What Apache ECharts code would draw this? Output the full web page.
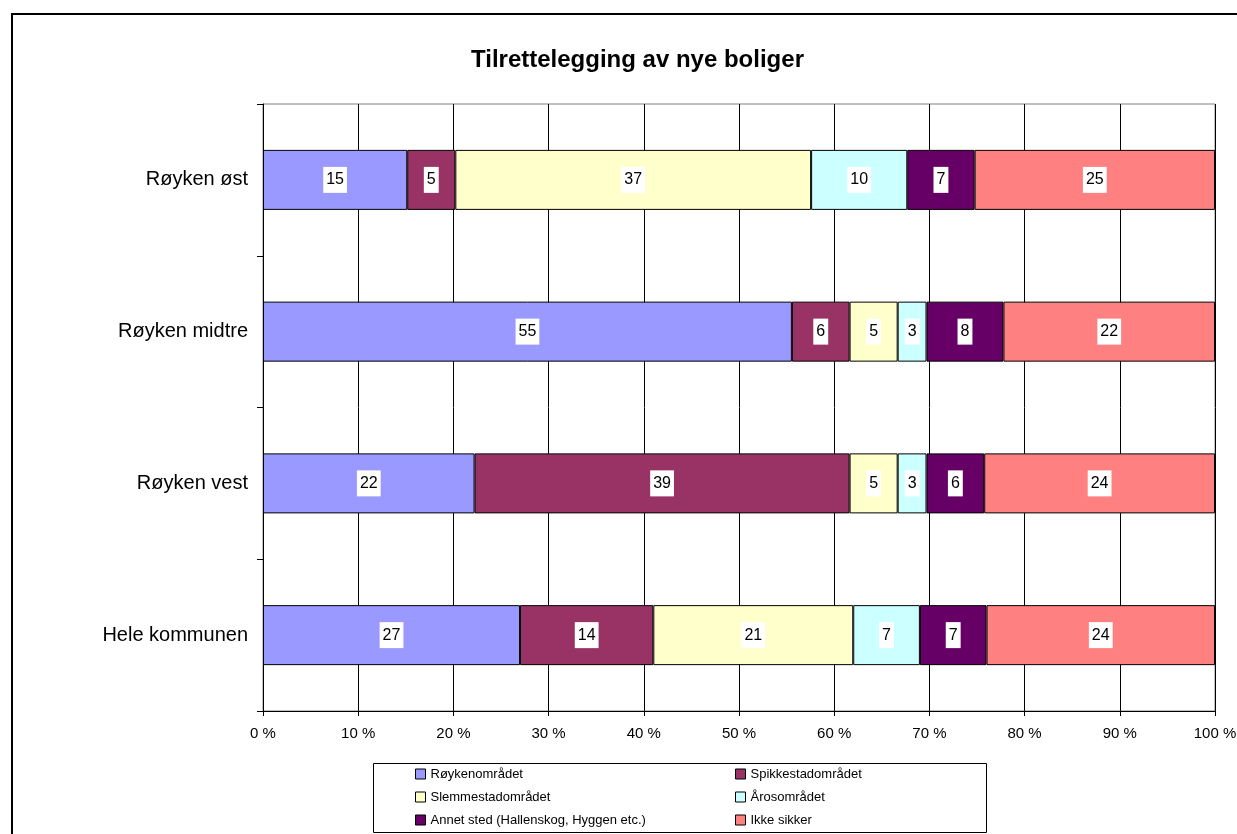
<!DOCTYPE html>
<html>
<head>
<meta charset="utf-8">
<title>Tilrettelegging av nye boliger</title>
<script src="https://cdn.jsdelivr.net/npm/echarts@6/dist/echarts.min.js"></script>
<style>
  html, body { margin: 0; padding: 0; background: #fff; }
  #main { width: 1237px; height: 834px; }
</style>
</head>
<body>
<div id="main"></div>
<script>
// antall svar per område (vises som etiketter), stolpene er normalisert til 100 %
var categories = ['Hele kommunen', 'Røyken vest', 'Røyken midtre', 'Røyken øst'];
var seriesNames = ['Røykenområdet', 'Spikkestadområdet', 'Slemmestadområdet', 'Årosområdet', 'Annet sted (Hallenskog, Hyggen etc.)', 'Ikke sikker'];
var roykenomradet   = [27, 22, 55, 15];
var spikkestad      = [14, 39, 6, 5];
var slemmestad      = [21, 5, 5, 37];
var arosomradet     = [7, 3, 3, 10];
var annetSted       = [7, 6, 8, 7];
var ikkeSikker      = [24, 24, 22, 25];
var xTicks = [0, 10, 20, 30, 40, 50, 60, 70, 80, 90, 100];

var values = [roykenomradet, spikkestad, slemmestad, arosomradet, annetSted, ikkeSikker];
var colors = ['#9999FF', '#993366', '#FFFFCC', '#CCFFFF', '#660066', '#FF8080'];
var font = "'Liberation Sans', Arial, sans-serif";

var totals = categories.map(function (c, i) {
  var s = 0;
  values.forEach(function (v) { s += v[i]; });
  return s;
});

var series = values.map(function (vals, s) {
  return {
    name: seriesNames[s],
    type: 'bar',
    stack: 'total',
    barWidth: 60,
    data: vals.map(function (v, i) { return v / totals[i] * 100; }),
    itemStyle: { color: colors[s], borderColor: '#000', borderWidth: 1 },
    label: {
      show: true,
      position: 'inside',
      formatter: function (p) { return vals[p.dataIndex]; },
      color: '#000',
      fontFamily: font,
      fontSize: 16,
      lineHeight: 18,
      backgroundColor: '#fff',
      padding: [4, 3]
    }
  };
});

var legendStyle = {
  orient: 'vertical',
  top: 767,
  height: 66,
  padding: 0,
  itemWidth: 10,
  itemHeight: 10,
  itemGap: 9,
  icon: 'rect',
  selectedMode: false,
  itemStyle: { borderColor: '#000', borderWidth: 1 },
  textStyle: { color: '#000', fontFamily: font, fontSize: 13, lineHeight: 14 }
};

var chart = echarts.init(document.getElementById('main'));
chart.setOption({
  animation: false,
  backgroundColor: '#fff',
  title: {
    text: 'Tilrettelegging av nye boliger',
    left: 466,
    top: 43,
    textStyle: { color: '#000', fontFamily: font, fontSize: 24, fontWeight: 'bold' }
  },
  graphic: [
    { type: 'rect', shape: { x: 12, y: 14, width: 1300, height: 900 },
      style: { fill: 'none', stroke: '#000', lineWidth: 2 }, silent: true },
    { type: 'rect', shape: { x: 373.5, y: 763.5, width: 613, height: 69 },
      style: { fill: 'none', stroke: '#000', lineWidth: 1 }, silent: true }
  ],
  legend: [
    Object.assign({}, legendStyle, { left: 415, data: [seriesNames[0], seriesNames[2], seriesNames[4]] }),
    Object.assign({}, legendStyle, { left: 735, data: [seriesNames[1], seriesNames[3], seriesNames[5]] })
  ],
  grid: {
    left: 263, right: 22, top: 104, bottom: 123,
    outerBoundsMode: 'none',
    containLabel: false,
    show: true, borderColor: '#808080', borderWidth: 1, backgroundColor: 'transparent'
  },
  xAxis: {
    type: 'value',
    min: xTicks[0],
    max: xTicks[xTicks.length - 1],
    interval: 10,
    axisLine: { show: true, lineStyle: { color: '#000', width: 1 } },
    axisTick: { show: true, length: 5, lineStyle: { color: '#000' } },
    splitLine: { show: true, lineStyle: { color: '#000', width: 1 } },
    axisLabel: {
      formatter: '{value} %',
      color: '#000', fontFamily: font, fontSize: 15, margin: 15
    }
  },
  yAxis: {
    type: 'category',
    data: categories,
    axisLine: { show: true, lineStyle: { color: '#000', width: 1 } },
    axisTick: { show: true, length: 6, lineStyle: { color: '#000' } },
    splitLine: { show: false },
    axisLabel: { color: '#000', fontFamily: font, fontSize: 20, margin: 15 }
  },
  series: series
});
</script>
</body>
</html>
